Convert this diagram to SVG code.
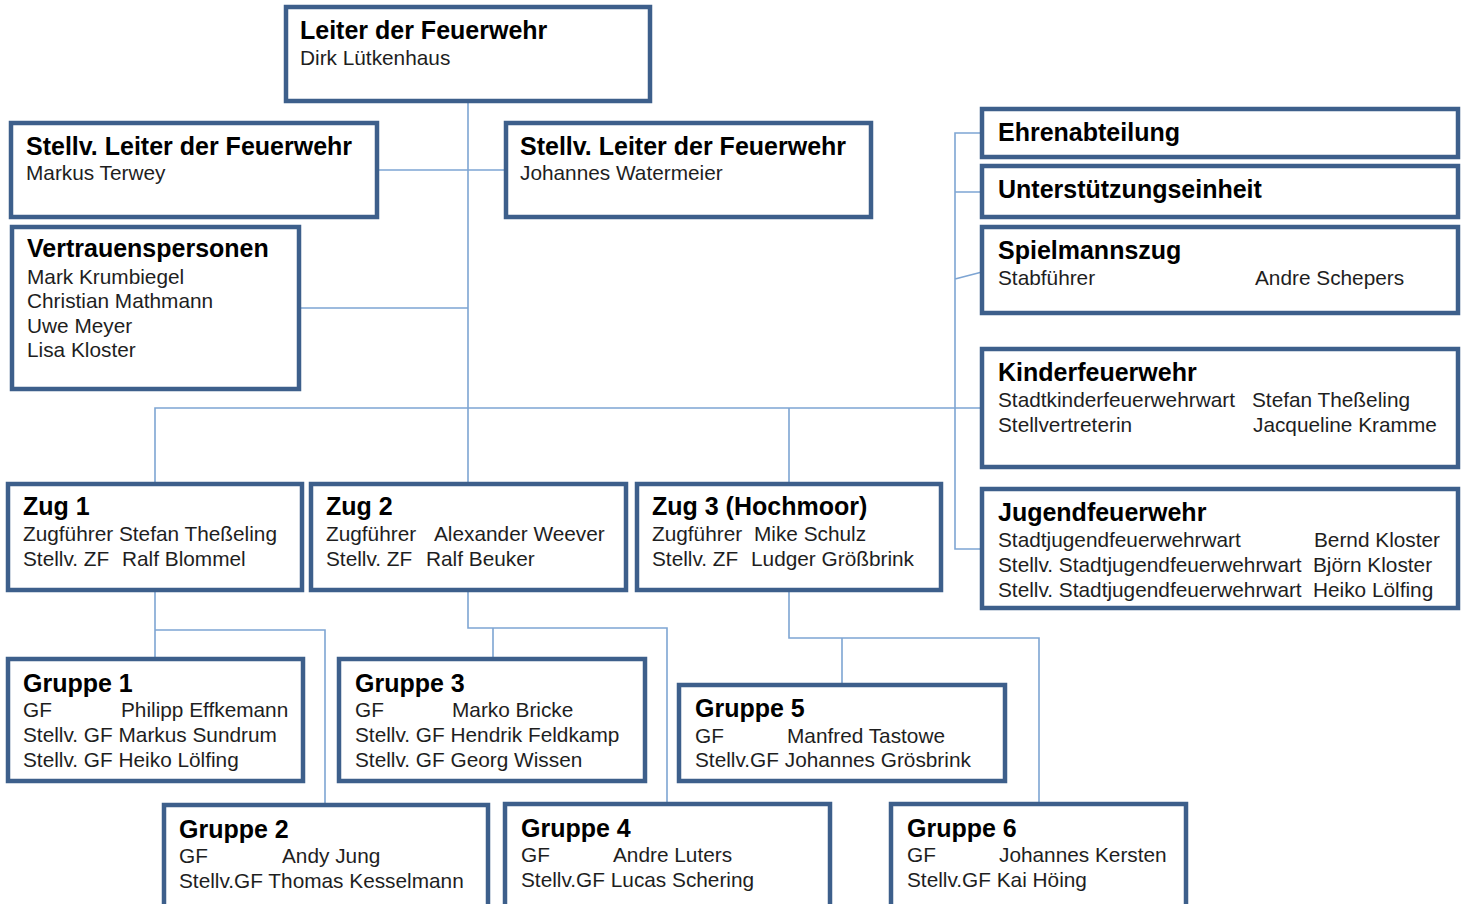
<svg xmlns="http://www.w3.org/2000/svg" width="1469" height="904" viewBox="0 0 1469 904">
<style>
.box{fill:#fff;stroke:#3d5f8b;stroke-width:4.5}
.con{fill:none;stroke:#7ea5d3;stroke-width:1.6}
.t{font-family:"Liberation Sans",Arial,sans-serif;font-weight:bold;font-size:25px;fill:#000}
.r{font-family:"Liberation Sans",Arial,sans-serif;font-size:20.8px;fill:#1e1e1e}
</style>
<rect width="1469" height="904" fill="#fff"/>
<g id="connectors">
<path class="con" d="M468,103V482M379,170H504M301,308H468M155,482V408H982M789,408V482"/>
<path class="con" d="M982,133H955V549H982M955,192H982M955,279L982,272"/>
<path class="con" d="M155,592V657M155,630H325V803"/>
<path class="con" d="M468,592V628H667V802M493,628V657"/>
<path class="con" d="M789,592V638H1039V802M842,638V683"/>
</g>
<g id="leiter"><rect class="box" x="286" y="7" width="364" height="94"/>
<text class="t" x="300" y="39">Leiter der Feuerwehr</text><text class="r" x="300" y="65">Dirk Lütkenhaus</text></g>
<g id="stellv1"><rect class="box" x="11" y="123" width="366" height="94"/>
<text class="t" x="26" y="155">Stellv. Leiter der Feuerwehr</text><text class="r" x="26" y="180">Markus Terwey</text></g>
<g id="stellv2"><rect class="box" x="506" y="123" width="365" height="94"/>
<text class="t" x="520" y="155">Stellv. Leiter der Feuerwehr</text><text class="r" x="520" y="180">Johannes Watermeier</text></g>
<g id="vertrauen"><rect class="box" x="12" y="227" width="287" height="162"/>
<text class="t" x="27" y="257">Vertrauenspersonen</text>
<text class="r" x="27" y="284">Mark Krumbiegel</text><text class="r" x="27" y="308">Christian Mathmann</text><text class="r" x="27" y="333">Uwe Meyer</text><text class="r" x="27" y="357">Lisa Kloster</text></g>
<g id="ehren"><rect class="box" x="982" y="109" width="476" height="48"/>
<text class="t" x="998" y="141">Ehrenabteilung</text></g>
<g id="unterstuetzung"><rect class="box" x="982" y="166" width="476" height="51"/>
<text class="t" x="998" y="198">Unterstützungseinheit</text></g>
<g id="spielmannszug"><rect class="box" x="982" y="227" width="476" height="86"/>
<text class="t" x="998" y="259">Spielmannszug</text><text class="r" x="998" y="285">Stabführer</text><text class="r" x="1255" y="285">Andre Schepers</text></g>
<g id="kinder"><rect class="box" x="982" y="349" width="476" height="118"/>
<text class="t" x="998" y="381">Kinderfeuerwehr</text>
<text class="r" x="998" y="407">Stadtkinderfeuerwehrwart</text><text class="r" x="1252" y="407">Stefan Theßeling</text>
<text class="r" x="998" y="432">Stellvertreterin</text><text class="r" x="1253" y="432">Jacqueline Kramme</text></g>
<g id="jugend"><rect class="box" x="982" y="489" width="476" height="119"/>
<text class="t" x="998" y="521">Jugendfeuerwehr</text>
<text class="r" x="998" y="547">Stadtjugendfeuerwehrwart</text><text class="r" x="1314" y="547">Bernd Kloster</text>
<text class="r" x="998" y="572">Stellv. Stadtjugendfeuerwehrwart</text><text class="r" x="1313" y="572">Björn Kloster</text>
<text class="r" x="998" y="597">Stellv. Stadtjugendfeuerwehrwart</text><text class="r" x="1313" y="597">Heiko Lölfing</text></g>
<g id="zug1"><rect class="box" x="8" y="484" width="294" height="106"/>
<text class="t" x="23" y="515">Zug 1</text><text class="r" x="23" y="541">Zugführer Stefan Theßeling</text>
<text class="r" x="23" y="566">Stellv. ZF</text><text class="r" x="122" y="566">Ralf Blommel</text></g>
<g id="zug2"><rect class="box" x="311" y="484" width="315" height="106"/>
<text class="t" x="326" y="515">Zug 2</text><text class="r" x="326" y="541">Zugführer</text><text class="r" x="434" y="541">Alexander Weever</text>
<text class="r" x="326" y="566">Stellv. ZF</text><text class="r" x="426" y="566">Ralf Beuker</text></g>
<g id="zug3"><rect class="box" x="637" y="484" width="304" height="106"/>
<text class="t" x="652" y="515">Zug 3 (Hochmoor)</text><text class="r" x="652" y="541">Zugführer</text><text class="r" x="754" y="541">Mike Schulz</text>
<text class="r" x="652" y="566">Stellv. ZF</text><text class="r" x="751" y="566">Ludger Größbrink</text></g>
<g id="gruppe1"><rect class="box" x="8" y="659" width="295" height="122"/>
<text class="t" x="23" y="692">Gruppe 1</text><text class="r" x="23" y="717">GF</text><text class="r" x="121" y="717">Philipp Effkemann</text>
<text class="r" x="23" y="742">Stellv. GF Markus Sundrum</text><text class="r" x="23" y="767">Stellv. GF Heiko Lölfing</text></g>
<g id="gruppe3"><rect class="box" x="339" y="659" width="306" height="122"/>
<text class="t" x="355" y="692">Gruppe 3</text><text class="r" x="355" y="717">GF</text><text class="r" x="452" y="717">Marko Bricke</text>
<text class="r" x="355" y="742">Stellv. GF Hendrik Feldkamp</text><text class="r" x="355" y="767">Stellv. GF Georg Wissen</text></g>
<g id="gruppe5"><rect class="box" x="679" y="685" width="326" height="96"/>
<text class="t" x="695" y="717">Gruppe 5</text><text class="r" x="695" y="743">GF</text><text class="r" x="787" y="743">Manfred Tastowe</text>
<text class="r" x="695" y="767">Stellv.GF Johannes Grösbrink</text></g>
<g id="gruppe2"><rect class="box" x="164" y="805" width="324" height="110"/>
<text class="t" x="179" y="838">Gruppe 2</text><text class="r" x="179" y="863">GF</text><text class="r" x="282" y="863">Andy Jung</text>
<text class="r" x="179" y="888">Stellv.GF Thomas Kesselmann</text></g>
<g id="gruppe4"><rect class="box" x="505" y="804" width="325" height="110"/>
<text class="t" x="521" y="837">Gruppe 4</text><text class="r" x="521" y="862">GF</text><text class="r" x="613" y="862">Andre Luters</text>
<text class="r" x="521" y="887">Stellv.GF Lucas Schering</text></g>
<g id="gruppe6"><rect class="box" x="891" y="804" width="295" height="110"/>
<text class="t" x="907" y="837">Gruppe 6</text><text class="r" x="907" y="862">GF</text><text class="r" x="999" y="862">Johannes Kersten</text>
<text class="r" x="907" y="887">Stellv.GF Kai Höing</text></g>
</svg>
